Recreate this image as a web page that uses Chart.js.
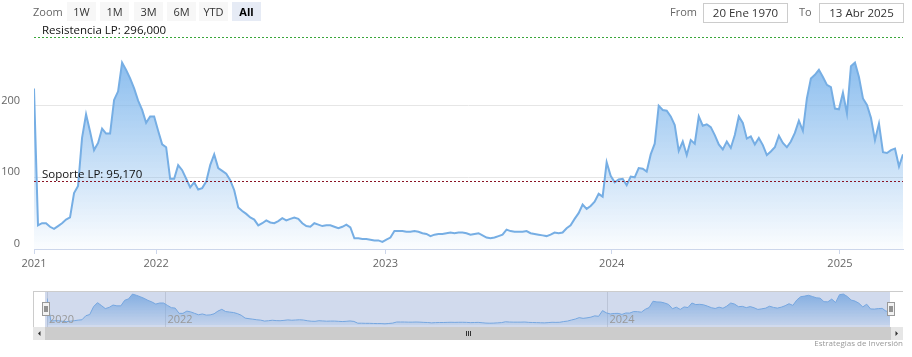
<!DOCTYPE html>
<html>
<head>
<meta charset="utf-8">
<script src="https://cdn.jsdelivr.net/npm/chart.js@4.4.1/dist/chart.umd.min.js"></script>
<style>
html,body{margin:0;padding:0;background:#fff;width:912px;height:357px;overflow:hidden;font-family:'Open Sans',sans-serif;}
#wrap{position:relative;width:912px;height:357px;}
#main{position:absolute;left:0;top:0;}
#nav{position:absolute;left:0;top:280px;}
.t{position:absolute;white-space:nowrap;color:#666;font-size:11px;line-height:19px;top:2px;}
.btn{position:absolute;top:2px;height:19px;width:29px;line-height:19px;text-align:center;background:#f7f7f7;color:#333;font-size:11px;}
.btn.sel{background:#e6ebf5;font-weight:bold;color:#000;}
.box{position:absolute;top:3px;height:18px;width:83px;border:1px solid #ccc;line-height:18px;text-align:center;color:#333;font-size:11.5px;box-sizing:content-box;}
#credit{position:absolute;right:9px;top:337px;font-size:8px;color:#999;white-space:nowrap;}
</style>
</head>
<body>
<div id="wrap">
  <canvas id="main" width="912" height="280"></canvas>
  <canvas id="nav" width="912" height="77"></canvas>
  <div class="t" style="left:33px;">Zoom</div>
  <div class="btn" style="left:67px;">1W</div>
  <div class="btn" style="left:100px;">1M</div>
  <div class="btn" style="left:134px;">3M</div>
  <div class="btn" style="left:167px;">6M</div>
  <div class="btn" style="left:199px;">YTD</div>
  <div class="btn sel" style="left:232px;">All</div>
  <div class="t" style="left:670px;">From</div>
  <div class="box" style="left:703px;">20 Ene 1970</div>
  <div class="t" style="left:799px;">To</div>
  <div class="box" style="left:819px;">13 Abr 2025</div>
  <div id="credit">Estrategias de Inversión</div>
</div>
<script>
// ---- data (sampled sequentially along the ordinal time axis) ----
const values = [
  224,33,36,36,31,28,32,36,41,44,
  78,88,155,188,164,138,148,168,161,161,
  208,220,260,250,238,224,207,194,176,185,
  185,165,146,142,98,98,117,110,98,86,
  93,83,85,94,117,132,113,109,105,96,
  82,58,53,49,44,41,33,
  36,40,37,36,39,43,40,42,44,42,
  36,32,31,36,34,32,33,33,31,29,
  31,34,30,15,15,14,14,13,12,12,
  10,13,16,25,25,25,24,24,25,24,
  22,21,18,20,21,21,22,23,22,23,
  23,22,20,21,22,
  19,16,15,16,18,20,27,25,24,24,
  24,25,22,21,20,19,18,20,23,22,
  23,29,33,42,50,62,56,60,66,77,
  73,121,102,93,97,98,89,101,100,113,
  112,108,132,147,200,194,193,185,173,137,
  150,131,152,147,
  185,172,174,170,159,146,139,150,141,159,
  185,176,154,157,146,155,145,131,136,142,
  158,148,142,150,162,179,165,210,238,243,
  250,240,229,226,196,195,218,189,255,260,
  240,210,201,183,152,175,135,134,138,140,
  115,132
];
// index of the first sample of each year on the ordinal axis
const yearLabels = ['2021','2022','2023','2024','2025'];
const yearIdx = [0, 30.5, 87.75, 144.25, 201.25];
const navYearLabels = ['2020','2022','2024'];
const navYearIdx = [0, 30.5, 144.25];
const yTicks = [0, 100, 200];
const levelValues = [296, 95.17];
const levelLabels = ['Resistencia LP: 296,000', 'Soporte LP: 95,170'];
const levelColors = ['#3aa63a', '#8b1424'];

const pts = values.map((v, i) => ({x: i, y: v}));
const lastIdx = values.length - 1;

const mainGrad = (ctx) => {
  const a = ctx.chart.chartArea;
  if (!a) return 'rgba(124,181,236,0.5)';
  const g = ctx.chart.ctx.createLinearGradient(0, a.top, 0, a.bottom);
  g.addColorStop(0, 'rgba(124,181,236,1)');
  g.addColorStop(1, 'rgba(124,181,236,0.03)');
  return g;
};

const overlay = {
  id: 'overlay',
  afterDatasetsDraw(chart) {
    const c = chart.ctx, y = chart.scales.y, a = chart.chartArea;
    c.save();
    levelValues.forEach((v, i) => {
      const py = Math.round(y.getPixelForValue(v)) + 0.5;
      c.strokeStyle = levelColors[i];
      c.lineWidth = 1;
      c.setLineDash([2, 2]);
      c.beginPath(); c.moveTo(a.left, py); c.lineTo(a.right, py); c.stroke();
      c.setLineDash([]);
      c.fillStyle = '#111';
      c.font = '11.5px "Open Sans"';
      c.textAlign = 'left'; c.textBaseline = 'alphabetic';
      c.fillText(levelLabels[i], a.left + 8, py - 3.5);
    });
    c.fillStyle = '#666';
    c.font = '11px "Open Sans"';
    c.textAlign = 'right'; c.textBaseline = 'middle';
    yTicks.forEach(v => c.fillText(String(v), 20, y.getPixelForValue(v) - 5));
    c.restore();
  }
};

new Chart(document.getElementById('main'), {
  type: 'line',
  data: { datasets: [{
    data: pts, borderColor: '#76aee4', borderWidth: 2, pointRadius: 0,
    tension: 0, fill: 'origin', backgroundColor: mainGrad
  }]},
  options: {
    responsive: false, animation: false, events: [],
    layout: { padding: { left: 34, right: 9, top: 34, bottom: 6.8 } },
    plugins: { legend: { display: false }, tooltip: { enabled: false } },
    scales: {
      x: {
        type: 'linear', min: 0, max: lastIdx,
        afterBuildTicks: s => { s.ticks = yearIdx.map(v => ({ value: v })); },
        ticks: { callback: (v, i) => yearLabels[i], color: '#666', font: { family: 'Open Sans', size: 11 }, padding: 3, maxRotation: 0, autoSkip: false },
        grid: { drawOnChartArea: false, drawTicks: true, tickLength: 5, color: '#ccd6eb' },
        border: { color: '#ccd6eb' }
      },
      y: {
        min: 0, max: 300,
        afterBuildTicks: s => { s.ticks = yTicks.map(v => ({ value: v })); },
        ticks: { display: false },
        grid: { color: '#e6e6e6', drawTicks: false },
        border: { display: false }
      }
    }
  },
  plugins: [overlay]
});

// ---- navigator ----
const navGrad = (ctx) => {
  const a = ctx.chart.chartArea;
  if (!a) return 'rgba(124,181,236,0.5)';
  const g = ctx.chart.ctx.createLinearGradient(0, a.top, 0, a.bottom);
  g.addColorStop(0, 'rgba(124,181,236,0.9)');
  g.addColorStop(1, 'rgba(124,181,236,0.15)');
  return g;
};
const NAV_L = 33, NAV_R = 903, NAV_T = 11, NAV_B = 47, SB_B = 60;
const navPlugin = {
  id: 'navPlugin',
  beforeDatasetsDraw(chart) {
    const c = chart.ctx, x = chart.scales.x;
    c.save();
    c.strokeStyle = '#e0e0e0'; c.lineWidth = 1;
    navYearIdx.forEach(v => {
      const px = Math.round(x.getPixelForValue(v)) + 0.5;
      c.beginPath(); c.moveTo(px, NAV_T); c.lineTo(px, NAV_B); c.stroke();
    });
    c.restore();
  },
  afterDatasetsDraw(chart) {
    const c = chart.ctx, x = chart.scales.x;
    const hl = x.getPixelForValue(0) - 2, hr = x.getPixelForValue(lastIdx);
    c.save();
    c.fillStyle = 'rgba(102,133,194,0.3)';
    c.fillRect(hl, NAV_T, hr - hl, NAV_B - NAV_T);
    c.strokeStyle = '#cccccc'; c.lineWidth = 1;
    c.beginPath(); c.moveTo(NAV_L, NAV_T + 0.5); c.lineTo(NAV_R, NAV_T + 0.5); c.stroke();
    c.beginPath(); c.moveTo(NAV_L + 0.5, NAV_T); c.lineTo(NAV_L + 0.5, SB_B); c.stroke();
    c.fillStyle = '#999'; c.font = '11px "Open Sans"';
    c.textAlign = 'left'; c.textBaseline = 'middle';
    navYearIdx.forEach((v, i) => c.fillText(navYearLabels[i], x.getPixelForValue(v) + 2, 40));
    c.fillStyle = '#cccccc';
    c.fillRect(NAV_L, NAV_B, NAV_R - NAV_L, SB_B - NAV_B);
    c.fillStyle = '#e6e6e6';
    c.fillRect(NAV_L, NAV_B, 12, SB_B - NAV_B);
    c.fillRect(NAV_R - 12, NAV_B, 12, SB_B - NAV_B);
    c.fillStyle = '#333';
    const my = (NAV_B + SB_B) / 2;
    c.beginPath(); c.moveTo(NAV_L + 5, my); c.lineTo(NAV_L + 7.5, my - 2.5); c.lineTo(NAV_L + 7.5, my + 2.5); c.closePath(); c.fill();
    c.beginPath(); c.moveTo(NAV_R - 5, my); c.lineTo(NAV_R - 7.5, my - 2.5); c.lineTo(NAV_R - 7.5, my + 2.5); c.closePath(); c.fill();
    const gx = Math.round((hl + hr) / 2);
    c.strokeStyle = '#333'; c.lineWidth = 1;
    [-2, 0, 2].forEach(d => { c.beginPath(); c.moveTo(gx + d + 0.5, my - 2.5); c.lineTo(gx + d + 0.5, my + 2.5); c.stroke(); });
    [hl, hr].forEach(hx => {
      const l = Math.round(hx - 3.5) + 0.5;
      c.fillStyle = '#f2f2f2'; c.strokeStyle = '#999';
      c.fillRect(l, 22.5, 7, 13); c.strokeRect(l, 22.5, 7, 13);
      c.strokeStyle = '#333';
      c.beginPath(); c.moveTo(l + 2.5, 26); c.lineTo(l + 2.5, 32); c.moveTo(l + 4.5, 26); c.lineTo(l + 4.5, 32); c.stroke();
    });
    c.restore();
  }
};
new Chart(document.getElementById('nav'), {
  type: 'line',
  data: { datasets: [{
    data: pts, borderColor: '#7cb5ec', borderWidth: 1, pointRadius: 0,
    tension: 0, fill: 'origin', backgroundColor: navGrad
  }]},
  options: {
    responsive: false, animation: false, events: [],
    layout: { padding: { left: 47, right: 22, top: 11, bottom: 32 } },
    plugins: { legend: { display: false }, tooltip: { enabled: false } },
    scales: {
      x: { type: 'linear', display: false, min: 0, max: lastIdx },
      y: { display: false, min: 0, max: 286 }
    }
  },
  plugins: [navPlugin]
});
</script>
</body>
</html>
